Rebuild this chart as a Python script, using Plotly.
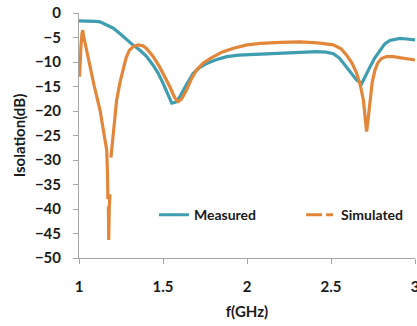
import plotly.graph_objects as go

meas_f = [1.0, 1.05, 1.1, 1.125, 1.16, 1.204, 1.25, 1.284, 1.32, 1.363, 1.40, 1.44, 1.47, 1.50,
          1.525, 1.552, 1.575, 1.60, 1.64, 1.68, 1.72, 1.76, 1.82, 1.88, 1.95, 2.02, 2.1, 2.216,
          2.3, 2.415, 2.47, 2.514, 2.55, 2.593, 2.625, 2.653, 2.683, 2.705, 2.732, 2.76, 2.79,
          2.82, 2.85, 2.91, 2.95, 3.0]
meas_db = [-1.6, -1.6, -1.7, -1.8, -2.3, -3.1, -4.4, -5.5, -6.5, -7.6, -8.8, -10.6, -12.2, -14.3,
           -16.4, -18.4, -18.2, -17.1, -14.6, -12.3, -11.1, -10.3, -9.5, -8.9, -8.6, -8.5, -8.4, -8.2,
           -8.1, -7.9, -8.0, -8.3, -9.2, -11.0, -12.5, -13.7, -14.4, -12.8, -11.0, -9.2, -7.6,
           -6.3, -5.6, -5.2, -5.3, -5.5]

sim_f = [1.003, 1.007, 1.012, 1.018, 1.022, 1.028, 1.036, 1.05, 1.065, 1.09, 1.125, 1.15, 1.165,
         1.17, 1.172, None, 1.175, 1.177, 1.18, 1.184, None, 1.19, 1.2, 1.21, 1.224, 1.245, 1.264,
         1.28, 1.30, 1.325, 1.353, 1.38, 1.40, 1.44, 1.48, 1.51, 1.54, 1.57, 1.59, 1.61, 1.64,
         1.67, 1.70, 1.74, 1.78, 1.85, 1.92, 2.0, 2.08, 2.2, 2.315, 2.42, 2.514, 2.56, 2.593,
         2.625, 2.653, 2.675, 2.693, 2.705, 2.712, 2.72, 2.732, 2.745, 2.762, 2.78, 2.80, 2.83,
         2.87, 2.93, 3.0]
sim_db = [-13.0, -9.5, -6.5, -4.2, -3.5, -4.8, -6.2, -8.5, -11.0, -14.8, -19.8, -24.5, -28.0,
          -33.0, -38.0, None, -39.5, -46.3, -40.0, -37.0, None, -29.5, -25.5, -21.5, -17.8, -14.0, -11.0,
          -9.2, -7.6, -6.8, -6.5, -6.7, -7.2, -8.8, -11.0, -12.9, -15.0, -17.3, -18.1, -17.6, -15.7,
          -13.4, -11.6, -10.2, -9.3, -8.0, -7.2, -6.5, -6.2, -6.0, -5.9, -6.1, -6.5, -7.3, -8.6,
          -10.2, -12.3, -14.8, -17.8, -22.0, -24.2, -22.0, -17.8, -14.2, -11.6, -10.1, -9.3, -8.9,
          -8.9, -9.2, -9.6]

x_ticks = [1, 1.5, 2, 2.5, 3]
x_tick_labels = ["1", "1.5", "2", "2.5", "3"]
y_ticks = [0, -5, -10, -15, -20, -25, -30, -35, -40, -45, -50]

TEAL = "#3E9EB0"
ORANGE = "#E2863A"
FONT = "Lato"
bold14 = dict(family=FONT, size=14, color="#1a1a1a", weight="bold")
bold15 = dict(family=FONT, size=15, color="#1a1a1a", weight="bold")

fig = go.Figure()
fig.add_trace(go.Scatter(x=meas_f, y=meas_db, mode="lines", name="Measured", legend="legend",
                         line=dict(color=TEAL, width=3.2)))
fig.add_trace(go.Scatter(x=sim_f, y=sim_db, mode="lines", name="Simulated", showlegend=False,
                         connectgaps=False, line=dict(color=ORANGE, width=3.2)))
fig.add_trace(go.Scatter(x=[None], y=[None], mode="lines", name="Simulated", legend="legend2",
                         line=dict(color=ORANGE, width=3.2, dash="16px,4px,7px,4px")))

fig.update_layout(
    width=417, height=326,
    margin=dict(l=79, r=2, t=13, b=68, autoexpand=False),
    paper_bgcolor="white", plot_bgcolor="white",
    font=dict(family=FONT, size=14, color="#262626"),
    showlegend=True,
    legend=dict(x=0.223, y=0.175, xanchor="left", yanchor="middle",
                bgcolor="rgba(0,0,0,0)", font=bold14),
    legend2=dict(x=0.661, y=0.175, xanchor="left", yanchor="middle",
                 bgcolor="rgba(0,0,0,0)", font=bold14),
    xaxis=dict(range=[1, 3], tickvals=x_ticks, ticktext=x_tick_labels,
               showgrid=False, zeroline=False, showline=True, linecolor="#A6A6A6", linewidth=1,
               ticks="outside", ticklen=5, tickcolor="#A6A6A6", ticklabelstandoff=10,
               ticklabeloverflow="allow",
               tickfont=bold15,
               title=dict(text="f(GHz)", font=bold15, standoff=12)),
    yaxis=dict(range=[-50, 0], tickvals=y_ticks,
               showgrid=False, zeroline=False, showline=True, linecolor="#A6A6A6", linewidth=1,
               ticks="outside", ticklen=5, tickcolor="#A6A6A6", ticklabelstandoff=9,
               ticklabeloverflow="allow",
               tickfont=bold15,
               title=dict(text="Isolation(dB)", font=bold15, standoff=5)),
)

fig.write_html("out.html", config={"displayModeBar": False},
               post_script="document.body.style.margin='0';document.body.style.padding='0';")
